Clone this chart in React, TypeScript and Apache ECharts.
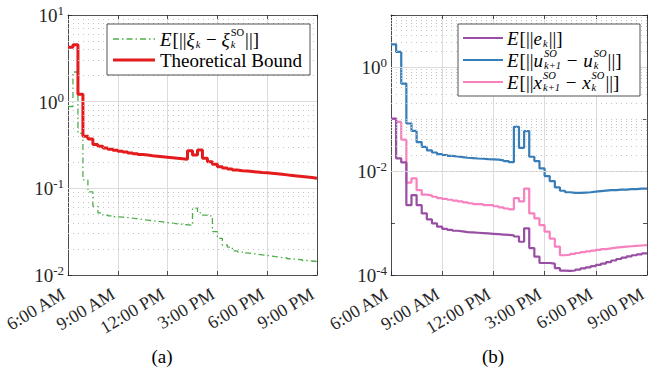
import React, { useEffect, useRef } from "react";
import * as echarts from "echarts";

// ---- data (18-minute steps from 6:00 AM to 9:00 PM) ----
const START_HOUR = 6;
const STEP_HOURS = 0.3;
const xTickHours = [6, 9, 12, 15, 18, 21];

// (a) Theoretical bound
const bound = [
  4.24, 4.54, 1.22, 0.4, 0.37, 0.32, 0.305, 0.292, 0.283, 0.275,
  0.268, 0.262, 0.256, 0.251, 0.246, 0.242, 0.238, 0.235, 0.232, 0.229,
  0.226, 0.223, 0.22, 0.216, 0.272, 0.243, 0.277, 0.222, 0.203, 0.189,
  0.178, 0.172, 0.167, 0.163, 0.16, 0.158, 0.156, 0.154, 0.152, 0.151,
  0.149, 0.147, 0.145, 0.143, 0.141, 0.139, 0.137, 0.135, 0.133, 0.131,
];
// (a) E[||xi_k - xi_k^SO||]
const xiErr = [
  0.88, 2.2, 0.43, 0.125, 0.091, 0.062, 0.052, 0.049, 0.048, 0.047,
  0.0465, 0.046, 0.0452, 0.0445, 0.0437, 0.043, 0.0423, 0.0416, 0.041, 0.0403,
  0.0397, 0.039, 0.0385, 0.038, 0.0376, 0.059, 0.052, 0.049, 0.048, 0.0316,
  0.0265, 0.0222, 0.021, 0.019, 0.0185, 0.018, 0.0177, 0.0174, 0.0171, 0.0168,
  0.0165, 0.0162, 0.0159, 0.0157, 0.0154, 0.0152, 0.015, 0.0147, 0.0145, 0.0143,
];
// (b) E[||e_k||]
const eErr = [
  0.102, 0.0175, 0.0146, 0.0022, 0.00344, 0.0022, 0.00153, 0.00117, 0.00098, 0.00085,
  0.00077, 0.00074, 0.00071, 0.00069, 0.00067, 0.00066, 0.00065, 0.00064, 0.00063, 0.00062,
  0.00061, 0.0006, 0.00059, 0.00058, 0.00055, 0.000436, 0.00079, 0.00033, 0.000225, 0.00017,
  0.00017, 0.000165, 0.000135, 0.000121, 0.00012, 0.000122, 0.000127, 0.000134, 0.00014, 0.000148,
  0.000156, 0.000166, 0.000177, 0.00019, 0.000203, 0.000215, 0.000228, 0.00024, 0.00025, 0.00026,
];
// (b) E[||u_{k+1}^SO - u_k^SO||]
const uDiff = [
  2.73, 1.95, 0.48, 0.082, 0.059, 0.036, 0.029, 0.025, 0.0227, 0.0211,
  0.0203, 0.0196, 0.019, 0.0185, 0.018, 0.0177, 0.0174, 0.0172, 0.0169, 0.0167,
  0.0165, 0.016, 0.0155, 0.0148, 0.0706, 0.0279, 0.0583, 0.0188, 0.0155, 0.0112,
  0.008, 0.0064, 0.00483, 0.00417, 0.0039, 0.0038, 0.0038, 0.00385, 0.0039, 0.004,
  0.0041, 0.0042, 0.0043, 0.0043, 0.0044, 0.0044, 0.0045, 0.0045, 0.0046, 0.0046,
];
// (b) E[||x_{k+1}^SO - x_k^SO||]
const xDiff = [
  0.1, 0.088, 0.04, 0.006, 0.0072, 0.0043, 0.0035, 0.0034, 0.0032, 0.003,
  0.0029, 0.0028, 0.0027, 0.0026, 0.0025, 0.0024, 0.0023, 0.0023, 0.0022, 0.0022,
  0.0021, 0.002, 0.0019, 0.00183, 0.003, 0.0026, 0.0046, 0.00153, 0.00123, 0.00091,
  0.00068, 0.0005, 0.00035, 0.00024, 0.000245, 0.000255, 0.000265, 0.000275, 0.000285, 0.000295,
  0.000305, 0.000315, 0.000325, 0.000335, 0.000343, 0.00035, 0.000357, 0.000363, 0.000369, 0.000375,
];

const COLORS = {
  red: "#e41a1c",
  green: "#4daf4a",
  purple: "#984ea3",
  blue: "#377eb8",
  pink: "#f781bf",
};

const SERIF = "Liberation Serif, DejaVu Serif, serif";
const AXIS_COLOR = "#262626";
const XTICK_FS = 18;
const YTICK_FS = 19;
const LEG_FS = 19;
const CAPTION_FS = 19;

function stairs(vals: number[]) {
  const pts: [number, number][] = vals.map((v, k) => [START_HOUR + k * STEP_HOURS, v]);
  pts.push([START_HOUR + vals.length * STEP_HOURS, vals[vals.length - 1]]);
  return pts;
}

function hourLabel(h: number) {
  const hh = Math.round(h);
  const suffix = hh < 12 ? "AM" : "PM";
  const h12 = hh % 12 === 0 ? 12 : hh % 12;
  return `${h12}:00 ${suffix}`;
}

let measureCtx: CanvasRenderingContext2D | null = null;
function measure(text: string, size: number, italic: boolean) {
  if (!measureCtx) measureCtx = document.createElement("canvas").getContext("2d");
  measureCtx!.font = `${italic ? "italic " : ""}${size}px ${SERIF}`;
  return measureCtx!.measureText(text).width;
}

type Tok = { t?: string; it?: boolean; sub?: boolean; sup?: boolean; gap?: number; stack?: { sup: Tok; sub: Tok } };

function txt(t: string, x: number, y: number, size: number, italic: boolean) {
  return {
    type: "text",
    x,
    y,
    z: 101,
    silent: true,
    style: {
      text: t,
      fontSize: size,
      fontFamily: SERIF,
      fontStyle: italic ? "italic" : "normal",
      fill: "#000",
      align: "left",
      verticalAlign: "middle",
    },
  };
}

const SCRIPT_FS = 10.5;
function buildRow(tokens: Tok[], x0: number, y: number, fs: number) {
  const els: any[] = [];
  const small = SCRIPT_FS;
  const supDy = -6.5;
  const subDy = 5.5;
  let x = x0;
  for (const tk of tokens) {
    if (tk.stack) {
      const a = tk.stack.sup;
      const b = tk.stack.sub;
      els.push(txt(a.t!, x, y + supDy, small, !!a.it));
      els.push(txt(b.t!, x, y + subDy, small, !!b.it));
      x += Math.max(measure(a.t!, small, !!a.it), measure(b.t!, small, !!b.it)) + 1;
    } else if (tk.sub || tk.sup) {
      els.push(txt(tk.t!, x, y + (tk.sub ? subDy : supDy), small, !!tk.it));
      x += measure(tk.t!, small, !!tk.it) + 1;
    } else {
      els.push(txt(tk.t!, x, y, fs, !!tk.it));
      x += measure(tk.t!, fs, !!tk.it) + (tk.it ? 1 : 0);
    }
    x += tk.gap || 0;
  }
  return els;
}

function legendLine(x1: number, x2: number, y: number, color: string, width: number, dash?: number[]) {
  return {
    type: "line",
    z: 101,
    silent: true,
    shape: { x1, y1: y, x2, y2: y },
    style: { stroke: color, lineWidth: width, lineDash: dash || null },
  };
}

function minorValues(lowExp: number, highExp: number, withDecades: boolean) {
  const out: number[] = [];
  for (let e = lowExp; e < highExp; e++) {
    const base = Math.pow(10, e);
    if (withDecades && e !== lowExp) out.push(base);
    for (let m = 2; m <= 9; m++) out.push(m * base);
  }
  return out;
}

export default function App() {
  const ref = useRef<HTMLDivElement>(null);

  useEffect(() => {
    if (!ref.current) return;
    const chart = echarts.init(ref.current, null, { renderer: "svg" });

    const gridL = { left: 61, top: 15, width: 256, height: 260 };
    const gridR = { left: 391, top: 15, width: 256, height: 260 };

    const xBase = (gridIndex: number) => ({
      type: "value",
      gridIndex,
      min: 6,
      max: 21,
      interval: 3,
      axisLine: { show: true, onZero: false, lineStyle: { color: AXIS_COLOR, width: 0.8 } },
      axisTick: { show: true, inside: true, length: 4, lineStyle: { color: AXIS_COLOR, width: 0.8 } },
    });
    const xBottom = (gridIndex: number) => ({
      ...xBase(gridIndex),
      position: "bottom",
      splitLine: { show: true, lineStyle: { color: "#dcdcdc", width: 1 } },
      axisLabel: {
        show: true,
        rotate: 31,
        margin: 25,
        align: "right",
        verticalAlign: "bottom",
        color: AXIS_COLOR,
        fontFamily: SERIF,
        fontSize: XTICK_FS,
        formatter: (v: number) => (xTickHours.includes(v) ? hourLabel(v) : ""),
        showMinLabel: true,
        showMaxLabel: true,
      },
    });
    const xTop = (gridIndex: number) => ({
      ...xBase(gridIndex),
      position: "top",
      splitLine: { show: false },
      axisLabel: { show: false },
    });

    const yBase = (gridIndex: number, min: number, max: number) => ({
      type: "log",
      logBase: 10,
      gridIndex,
      min,
      max,
      axisLine: { show: true, onZero: false, lineStyle: { color: AXIS_COLOR, width: 0.8 } },
      axisTick: { show: true, inside: true, length: 4, lineStyle: { color: AXIS_COLOR, width: 0.8 } },
      splitLine: { show: false },
    });
    const yLeft = (gridIndex: number, min: number, max: number, everyOther: boolean) => ({
      ...yBase(gridIndex, min, max),
      position: "left",
      axisLabel: {
        show: true,
        margin: 4,
        color: AXIS_COLOR,
        fontFamily: SERIF,
        formatter: (v: number) => {
          const e = Math.round(Math.log10(v));
          if (everyOther && e % 2 !== 0) return "";
          return `{b|10}{s|${e}}`;
        },
        rich: {
          b: { fontSize: YTICK_FS, fontFamily: SERIF, color: AXIS_COLOR, verticalAlign: "bottom", lineHeight: 20 },
          s: { fontSize: 13, fontFamily: SERIF, color: AXIS_COLOR, verticalAlign: "bottom", lineHeight: 20, padding: [0, 0, 8, 0] },
        },
      },
    });
    const yRight = (gridIndex: number, min: number, max: number) => ({
      ...yBase(gridIndex, min, max),
      position: "right",
      axisLabel: { show: false },
    });

    const gridLines = (xAxisIndex: number, yAxisIndex: number, major: number[], minor: number[]) => ({
      type: "line",
      xAxisIndex,
      yAxisIndex,
      data: [],
      z: 1,
      silent: true,
      markLine: {
        silent: true,
        symbol: "none",
        label: { show: false },
        animation: false,
        data: [
          ...major.map((v) => ({ yAxis: v, lineStyle: { color: "#dcdcdc", width: 1, type: "solid" } })),
          ...minor.map((v) => ({ yAxis: v, lineStyle: { color: "#c4c4c4", width: 1, type: [1, 4] } })),
        ],
      },
    });

    const stairSeries = (name: string, vals: number[], xi: number, yi: number, color: string, width: number, type: any, z = 3) => ({
      type: "line",
      name,
      xAxisIndex: xi,
      yAxisIndex: yi,
      data: stairs(vals),
      step: "end",
      showSymbol: false,
      symbol: "none",
      z,
      lineStyle: { color, width, type },
      itemStyle: { color },
    });

    // ---- legends (drawn with graphic so that stacked sub/superscripts can be shown) ----
    const legL = { x: 107, y: 24, w: 203, h: 51 };
    const legR = { x: 458, y: 24, w: 182, h: 72 };

    const rowA1: Tok[] = [
      { t: "E", it: true }, { t: "[||" }, { t: "ξ", it: true }, { t: "k", it: true, sub: true },
      { t: " − " }, { t: "ξ", it: true }, { stack: { sup: { t: "SO" }, sub: { t: "k", it: true } } }, { t: "||]" },
    ];
    const rowA2: Tok[] = [{ t: "Theoretical Bound" }];
    const rowB1: Tok[] = [{ t: "E", it: true }, { t: "[||" }, { t: "e", it: true }, { t: "k", it: true, sub: true }, { t: "||]" }];
    const rowB2: Tok[] = [
      { t: "E", it: true }, { t: "[||" }, { t: "u", it: true }, { stack: { sup: { t: "SO", it: true }, sub: { t: "k+1", it: true } } },
      { t: " − ", gap: 1 }, { t: "u", it: true }, { stack: { sup: { t: "SO", it: true }, sub: { t: "k", it: true } } }, { t: "||]" },
    ];
    const rowB3: Tok[] = [
      { t: "E", it: true }, { t: "[||" }, { t: "x", it: true }, { stack: { sup: { t: "SO", it: true }, sub: { t: "k+1", it: true } } },
      { t: " − ", gap: 1 }, { t: "x", it: true }, { stack: { sup: { t: "SO", it: true }, sub: { t: "k", it: true } } }, { t: "||]" },
    ];

    const graphics: any[] = [
      {
        type: "rect",
        z: 100,
        silent: true,
        shape: { x: legL.x, y: legL.y, width: legL.w, height: legL.h },
        style: { fill: "#fff", stroke: AXIS_COLOR, lineWidth: 0.8 },
      },
      legendLine(113, 155, 39, COLORS.green, 1.3, [6, 3, 1.5, 3]),
      legendLine(113, 155, 60, COLORS.red, 3),
      ...buildRow(rowA1, 160, 39, LEG_FS),
      ...buildRow(rowA2, 160, 60, LEG_FS),
      {
        type: "rect",
        z: 100,
        silent: true,
        shape: { x: legR.x, y: legR.y, width: legR.w, height: legR.h },
        style: { fill: "#fff", stroke: AXIS_COLOR, lineWidth: 0.8 },
      },
      legendLine(463, 503, 38, COLORS.purple, 2.2),
      legendLine(463, 503, 60, COLORS.blue, 2.2),
      legendLine(463, 503, 82, COLORS.pink, 2.2),
      ...buildRow(rowB1, 507, 38, LEG_FS),
      ...buildRow(rowB2, 507, 60, LEG_FS),
      ...buildRow(rowB3, 507, 82, LEG_FS),
      {
        type: "text",
        x: 162,
        y: 356,
        silent: true,
        style: { text: "(a)", fontSize: CAPTION_FS, fontFamily: SERIF, fill: "#000", align: "center", verticalAlign: "middle" },
      },
      {
        type: "text",
        x: 493,
        y: 356,
        silent: true,
        style: { text: "(b)", fontSize: CAPTION_FS, fontFamily: SERIF, fill: "#000", align: "center", verticalAlign: "middle" },
      },
    ];

    chart.setOption({
      animation: false,
      backgroundColor: "#fff",
      grid: [gridL, gridR],
      xAxis: [xBottom(0), xTop(0), xBottom(1), xTop(1)],
      yAxis: [yLeft(0, 0.01, 10, false), yRight(0, 0.01, 10), yLeft(1, 1e-4, 10, true), yRight(1, 1e-4, 10)],
      series: [
        gridLines(0, 0, [0.1, 1], minorValues(-2, 1, false)),
        gridLines(2, 2, [0.01, 1], minorValues(-4, 1, true).filter((v) => Math.abs(Math.log10(v) + 2) > 1e-9 && Math.abs(Math.log10(v)) > 1e-9)),
        stairSeries("E[||ξk − ξk^SO||]", xiErr, 0, 0, COLORS.green, 1.3, [6, 3, 1.5, 3]),
        stairSeries("Theoretical Bound", bound, 0, 0, COLORS.red, 3, "solid"),
        stairSeries("E[||u(k+1)^SO − u(k)^SO||]", uDiff, 2, 2, COLORS.blue, 2.2, "solid"),
        stairSeries("E[||x(k+1)^SO − x(k)^SO||]", xDiff, 2, 2, COLORS.pink, 2.2, "solid"),
        stairSeries("E[||e_k||]", eErr, 2, 2, COLORS.purple, 2.2, "solid", 4),
      ],
      graphic: graphics,
    });

    return () => chart.dispose();
  }, []);

  return (
    <div
      ref={ref}
      style={{ position: "absolute", left: 0, top: 0, width: 655, height: 368, background: "#fff" }}
    />
  );
}
